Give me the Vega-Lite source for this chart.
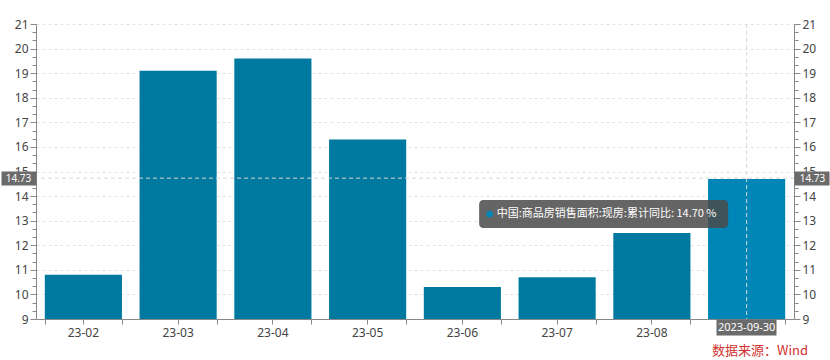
{
  "$schema": "https://vega.github.io/schema/vega-lite/v6.json",
  "width": 758,
  "height": 295,
  "autosize": {"type": "none"},
  "padding": {"left": 36, "top": 24, "right": 36, "bottom": 41},
  "config": {
    "view": {"stroke": null},
    "font": "Noto Sans",
    "axis": {"title": null, "labelFont": "Noto Sans", "labelColor": "#444", "labelFontSize": 12, "domainColor": "#888", "tickColor": "#888"}
  },
  "title": {"text": "数据来源：Wind", "orient": "bottom", "anchor": "end", "frame": "group", "baseline": "top", "color": "#d0312d", "fontSize": 13, "fontWeight": "normal", "font": "Noto Sans CJK SC", "offset": -20, "dx": 14},
  "data": {"values": [
    {"month": "23-02", "value": 10.8},
    {"month": "23-03", "value": 19.1},
    {"month": "23-04", "value": 19.6},
    {"month": "23-05", "value": 16.3},
    {"month": "23-06", "value": 10.3},
    {"month": "23-07", "value": 10.7},
    {"month": "23-08", "value": 12.5},
    {"month": "23-09", "value": 14.7}
  ]},
  "layer": [
    {
      "mark": {"type": "bar", "clip": true},
      "encoding": {
        "x": {"field": "month", "type": "nominal", "sort": null,
          "scale": {"paddingInner": 0.186, "paddingOuter": 0.093},
          "axis": {"orient": "bottom", "labelAngle": 0, "tickBand": "center", "tickSize": 5, "labelPadding": 3, "grid": false, "zindex": 1, "labelFontSize": 12,
            "labelExpr": "datum.value == '23-09' ? '' : datum.label"}},
        "y": {"field": "value", "type": "quantitative",
          "scale": {"domain": [9, 21], "zero": false, "nice": false},
          "axis": {"orient": "left", "zindex": 0,
            "values": [9, 9.3333, 9.6667, 10, 10.3333, 10.6667, 11, 11.3333, 11.6667, 12, 12.3333, 12.6667, 13, 13.3333, 13.6667, 14, 14.3333, 14.6667, 15, 15.3333, 15.6667, 16, 16.3333, 16.6667, 17, 17.3333, 17.6667, 18, 18.3333, 18.6667, 19, 19.3333, 19.6667, 20, 20.3333, 20.6667, 21],
            "labelExpr": "abs(datum.value - round(datum.value)) < 0.01 ? format(datum.value, 'd') : ''",
            "labelOverlap": false,
            "labelPadding": 2,
            "tickSize": {"condition": {"test": "abs(datum.value - round(datum.value)) < 0.01", "value": 6}, "value": 4},
            "grid": true,
            "gridDash": [3, 3],
            "gridColor": "#e2e2e2",
            "gridOpacity": {"condition": {"test": "abs(datum.value - round(datum.value)) < 0.01", "value": 1}, "value": 0}}},
        "color": {"condition": {"test": "datum.month == '23-09'", "value": "#0086b6"}, "value": "#0079a1"}
      }
    },
    {
      "data": {"values": [{"cy": 14.73}]},
      "mark": {"type": "rule", "color": "#d6d6d6", "strokeDash": [4, 3], "strokeWidth": 1},
      "encoding": {
        "y": {"field": "cy", "type": "quantitative",
          "axis": {"orient": "right", "zindex": 1,
            "values": [9, 9.3333, 9.6667, 10, 10.3333, 10.6667, 11, 11.3333, 11.6667, 12, 12.3333, 12.6667, 13, 13.3333, 13.6667, 14, 14.3333, 14.6667, 15, 15.3333, 15.6667, 16, 16.3333, 16.6667, 17, 17.3333, 17.6667, 18, 18.3333, 18.6667, 19, 19.3333, 19.6667, 20, 20.3333, 20.6667, 21],
            "labelExpr": "abs(datum.value - round(datum.value)) < 0.01 ? format(datum.value, 'd') : ''",
            "labelOverlap": false,
            "labelPadding": 2,
            "tickSize": {"condition": {"test": "abs(datum.value - round(datum.value)) < 0.01", "value": 6}, "value": 4},
            "grid": false}}
      }
    },
    {
      "data": {"values": [{"cm": "23-09"}]},
      "mark": {"type": "rule", "color": "#d6d6d6", "strokeDash": [4, 3], "strokeWidth": 1},
      "encoding": {
        "x": {"field": "cm", "type": "nominal",
          "axis": {"orient": "bottom", "values": ["23-09"], "labelExpr": "'2023-09-30'", "tickBand": "center", "tickSize": 16, "tickWidth": 60, "tickColor": "#6b6b6b", "labelColor": "#ffffff", "labelFontSize": 11, "labelBaseline": "middle", "labelPadding": -7.5, "domain": false, "grid": false, "zindex": 3, "labelAngle": 0}}
      }
    },
    {
      "data": {"values": [{"tm": "23-09", "tv": 13.27}]},
      "mark": {"type": "rect", "width": 249, "height": 28, "xOffset": -143, "cornerRadius": 4, "fill": "#4a4a4a", "opacity": 0.85},
      "encoding": {
        "x": {"field": "tm", "type": "nominal",
          "axis": {"orient": "bottom", "tickBand": "extent", "labels": false, "domain": false, "tickSize": 5, "grid": false, "zindex": 0}},
        "y": {"field": "tv", "type": "quantitative",
          "axis": {"orient": "left", "values": [14.73], "labelExpr": "'14.73'", "tickSize": 35, "tickWidth": 14, "tickColor": "#6b6b6b", "labelColor": "#ffffff", "labelFontSize": 10, "labelAlign": "center", "labelPadding": -17, "domain": false, "grid": false, "zindex": 3}}
      }
    },
    {
      "data": {"values": [{"tm": "23-09", "tv": 13.27, "label": "中国:商品房销售面积:现房:累计同比: 14.70  %"}]},
      "mark": {"type": "text", "dx": -140, "align": "center", "baseline": "middle", "fontSize": 11, "color": "#ffffff", "font": "Noto Sans CJK SC"},
      "encoding": {
        "x": {"field": "tm", "type": "nominal", "axis": null},
        "y": {"field": "tv", "type": "quantitative",
          "axis": {"orient": "right", "values": [14.73], "labelExpr": "'14.73'", "tickSize": 35, "tickWidth": 14, "tickColor": "#6b6b6b", "labelColor": "#ffffff", "labelFontSize": 10, "labelAlign": "center", "labelPadding": -17, "domain": false, "grid": false, "zindex": 3}},
        "text": {"field": "label"}
      }
    },
    {
      "data": {"values": [{"tm": "23-09", "tv": 13.27}]},
      "mark": {"type": "point", "filled": true, "size": 45, "opacity": 1, "color": "#0086b6", "xOffset": -257},
      "encoding": {
        "x": {"field": "tm", "type": "nominal", "axis": null},
        "y": {"field": "tv", "type": "quantitative", "axis": null}
      }
    }
  ],
  "resolve": {"axis": {"x": "independent", "y": "independent"}}
}
